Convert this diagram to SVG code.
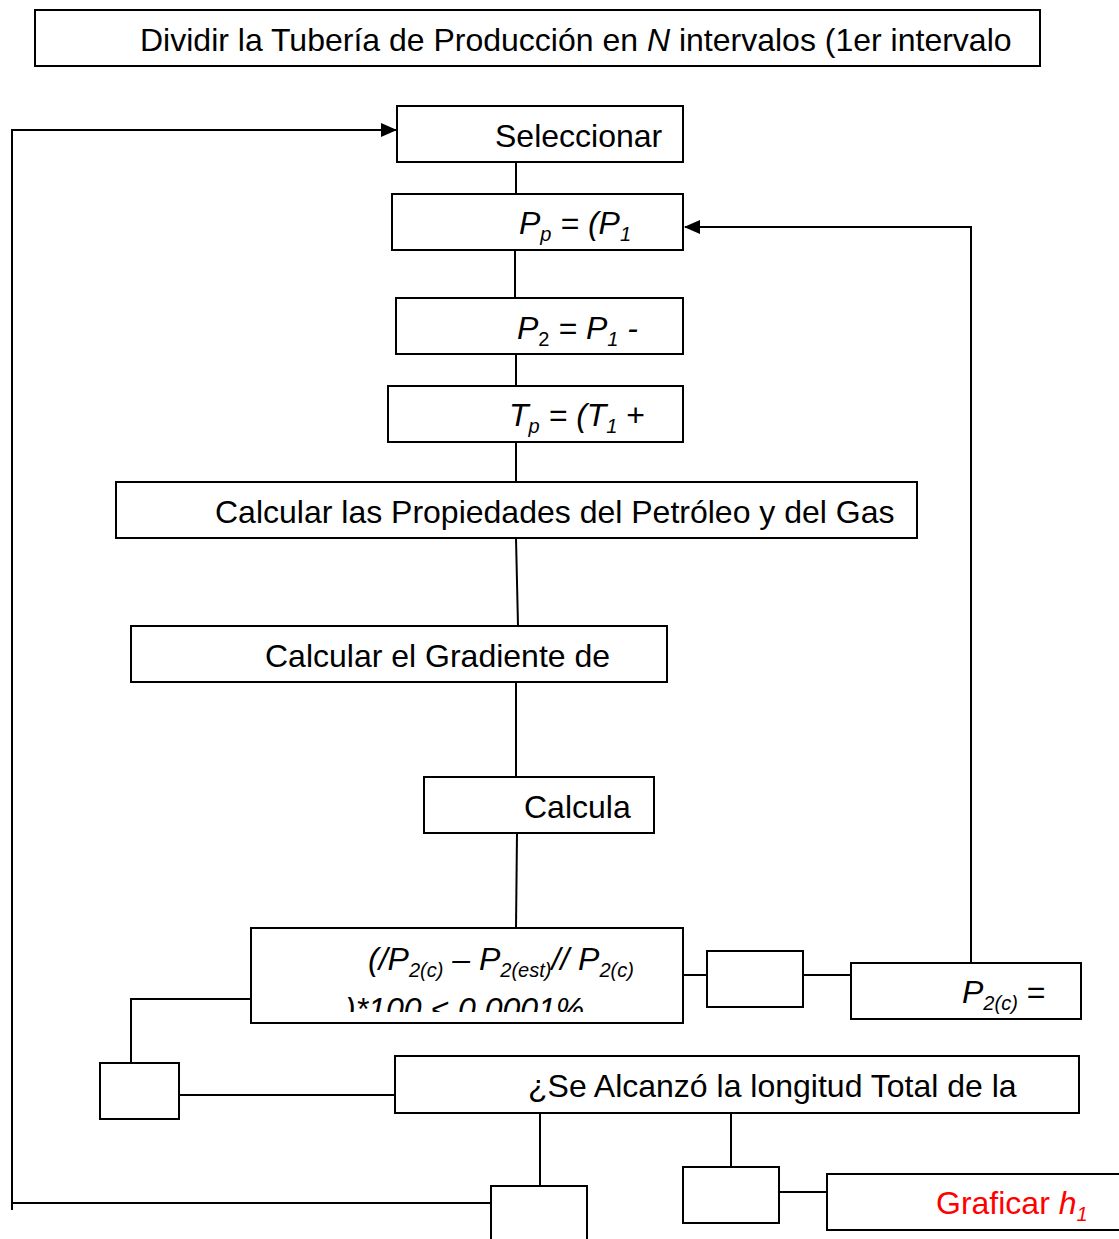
<svg xmlns="http://www.w3.org/2000/svg" width="1119" height="1239" viewBox="0 0 1119 1239">
<style>
.box{fill:#fff;stroke:#000;stroke-width:2}
.t{font-family:"Liberation Sans",Arial,sans-serif;font-size:32px;fill:#000}
.i{font-style:italic}
.s{font-size:20px}
.ln{fill:none;stroke:#000;stroke-width:2}
</style>
<defs>
<marker id="ah" markerWidth="16" markerHeight="14" refX="15" refY="7" orient="auto" markerUnits="userSpaceOnUse">
<path d="M0,0 L16,7 L0,14 Z" fill="#000"/>
</marker>
<clipPath id="cc"><rect x="252" y="929" width="430" height="83"/></clipPath>
</defs>
<rect width="1119" height="1239" fill="#fff"/>
<g id="connectors">
<path class="ln" d="M516,162 V194"/>
<path class="ln" d="M515,250 V298"/>
<path class="ln" d="M516,354 V386"/>
<path class="ln" d="M516,442 V482"/>
<path class="ln" d="M516,538 L518,626"/>
<path class="ln" d="M516,682 V777"/>
<path class="ln" d="M517,833 L516,928"/>
<path class="ln" d="M683,975 H707"/>
<path class="ln" d="M803,975 H851"/>
<path class="ln" d="M971,963 V227 H685" marker-end="url(#ah)"/>
<path class="ln" d="M251,999 H131 V1063"/>
<path class="ln" d="M179,1095 H395"/>
<path class="ln" d="M540,1113 V1186"/>
<path class="ln" d="M731,1113 V1167"/>
<path class="ln" d="M779,1192 H827"/>
<path class="ln" d="M491,1203 H12 V130 H396" marker-end="url(#ah)"/>
<path class="ln" d="M12,1203 V1210"/>
</g>
<g id="n-dividir">
<rect class="box" x="35" y="10" width="1005" height="56"/>
<text class="t" x="140" y="51">Dividir la Tubería de Producción en <tspan class="i">N</tspan> intervalos (1er intervalo</text>
</g>
<g id="n-seleccionar">
<rect class="box" x="397" y="106" width="286" height="56"/>
<text class="t" x="495" y="147">Seleccionar</text>
</g>
<g id="n-pp">
<rect class="box" x="392" y="194" width="291" height="56"/>
<text class="t i" x="519" y="234">P<tspan class="s" dy="7">p</tspan><tspan dy="-7"> = (P</tspan><tspan class="s" dy="7">1</tspan></text>
</g>
<g id="n-p2">
<rect class="box" x="396" y="298" width="287" height="56"/>
<text class="t i" x="517" y="339">P<tspan class="s" dy="7" font-style="normal">2</tspan><tspan dy="-7"> = P</tspan><tspan class="s" dy="7">1</tspan><tspan dy="-7"> -</tspan></text>
</g>
<g id="n-tp">
<rect class="box" x="388" y="386" width="295" height="56"/>
<text class="t i" x="509" y="426">T<tspan class="s" dy="7">p</tspan><tspan dy="-7"> = (T</tspan><tspan class="s" dy="7">1</tspan><tspan dy="-7" font-style="normal"> +</tspan></text>
</g>
<g id="n-propiedades">
<rect class="box" x="116" y="482" width="801" height="56"/>
<text class="t" x="215" y="523">Calcular las Propiedades del Petróleo y del Gas</text>
</g>
<g id="n-gradiente">
<rect class="box" x="131" y="626" width="536" height="56"/>
<text class="t" x="265" y="667">Calcular el Gradiente de</text>
</g>
<g id="n-calcula">
<rect class="box" x="424" y="777" width="230" height="56"/>
<text class="t" x="524" y="818">Calcula</text>
</g>
<g id="n-condicion">
<rect class="box" x="251" y="928" width="432" height="95"/>
<text class="t i" x="368" y="970">(/P<tspan class="s" dy="7">2(c)</tspan><tspan dy="-7"> – P</tspan><tspan class="s" dy="7">2(est)</tspan><tspan dy="-7">// P</tspan><tspan class="s" dy="7">2(c)</tspan></text>
<text class="t i" x="345" y="1020" clip-path="url(#cc)">)*100  &lt; 0.0001%</text>
</g>
<g id="n-no1">
<rect class="box" x="707" y="951" width="96" height="56"/>
</g>
<g id="n-p2c">
<rect class="box" x="851" y="963" width="230" height="56"/>
<text class="t" x="962" y="1003"><tspan class="i">P</tspan><tspan class="s i" dy="7">2(c)</tspan><tspan dy="-7"> =</tspan></text>
</g>
<g id="n-si1">
<rect class="box" x="100" y="1063" width="79" height="56"/>
</g>
<g id="n-longitud">
<rect class="box" x="395" y="1056" width="684" height="57"/>
<text class="t" x="528" y="1097">¿Se Alcanzó la longitud Total de la</text>
</g>
<g id="n-no2">
<rect class="box" x="491" y="1186" width="96" height="70"/>
</g>
<g id="n-si2">
<rect class="box" x="683" y="1167" width="96" height="56"/>
</g>
<g id="n-graficar">
<rect class="box" x="827" y="1174" width="310" height="56"/>
<text class="t" x="936" y="1214" fill="#f00" style="fill:#f00">Graficar <tspan class="i">h</tspan><tspan class="s i" dy="7">1</tspan></text>
</g>
</svg>
